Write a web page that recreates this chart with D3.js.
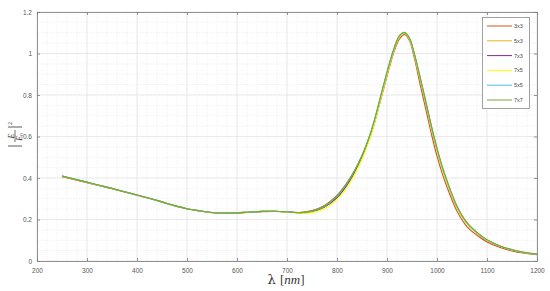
<!DOCTYPE html>
<html>
<head>
<meta charset="utf-8">
<script src="https://cdn.jsdelivr.net/npm/d3@7"></script>
<style>
	body{margin:0;background:#fff;}
	svg{display:block;}
</style>
</head>
<body>
<div id="chart"></div>
<script>
// wavelength samples (nm)
var lambda=[250,275,300,325,350,375,400,425,450,475,500,525,550,575,600,625,650,675,700,725,750,775,800,825,850,870,890,905,915,925,935,945,955,965,980,990,1000,1010,1020,1040,1060,1080,1100,1125,1150,1175,1200];

var s3x3=[0.406,0.392,0.377,0.363,0.348,0.333,0.317,0.301,0.284,0.266,0.251,0.241,0.233,0.230,0.231,0.235,0.238,0.239,0.237,0.234,0.243,0.268,0.316,0.395,0.500,0.625,0.800,0.935,1.015,1.070,1.092,1.062,0.975,0.865,0.705,0.600,0.505,0.425,0.356,0.240,0.166,0.124,0.092,0.066,0.048,0.037,0.030];
var s5x3=[0.409,0.394,0.379,0.364,0.349,0.334,0.318,0.302,0.285,0.267,0.252,0.242,0.234,0.231,0.232,0.236,0.239,0.240,0.237,0.232,0.238,0.260,0.306,0.385,0.500,0.630,0.810,0.945,1.025,1.080,1.098,1.070,0.990,0.886,0.735,0.630,0.535,0.450,0.378,0.258,0.180,0.134,0.100,0.072,0.053,0.040,0.033];
var s7x3=[0.409,0.394,0.379,0.364,0.349,0.334,0.318,0.302,0.285,0.267,0.252,0.242,0.234,0.231,0.232,0.236,0.239,0.240,0.237,0.232,0.238,0.260,0.306,0.385,0.502,0.632,0.812,0.947,1.027,1.082,1.099,1.070,0.990,0.888,0.737,0.632,0.537,0.452,0.380,0.259,0.181,0.135,0.100,0.072,0.053,0.040,0.033];
var s7x5=[0.409,0.394,0.379,0.364,0.349,0.334,0.318,0.302,0.285,0.267,0.252,0.242,0.234,0.231,0.232,0.236,0.239,0.240,0.236,0.230,0.233,0.252,0.296,0.372,0.490,0.622,0.805,0.942,1.024,1.080,1.098,1.068,0.988,0.886,0.735,0.630,0.535,0.450,0.378,0.258,0.180,0.134,0.100,0.072,0.053,0.040,0.033];
var s5x5=[0.410,0.395,0.380,0.365,0.350,0.334,0.318,0.302,0.285,0.267,0.252,0.242,0.234,0.231,0.232,0.236,0.239,0.240,0.237,0.233,0.240,0.263,0.312,0.392,0.508,0.638,0.818,0.952,1.030,1.085,1.100,1.072,0.995,0.896,0.742,0.637,0.542,0.457,0.385,0.263,0.184,0.137,0.102,0.073,0.054,0.041,0.033];
var s7x7=[0.410,0.395,0.380,0.365,0.350,0.334,0.318,0.302,0.285,0.267,0.252,0.242,0.234,0.231,0.232,0.236,0.239,0.240,0.237,0.233,0.241,0.265,0.315,0.395,0.510,0.640,0.820,0.955,1.032,1.087,1.102,1.075,0.998,0.900,0.745,0.640,0.545,0.460,0.388,0.265,0.185,0.138,0.103,0.074,0.055,0.042,0.034];

var seriesNames=['3x3','5x3','7x3','7x5','5x5','7x7'];
var seriesValues=[s3x3,s5x3,s7x3,s7x5,s5x5,s7x7];
var seriesColors=['#D95319','#EDB120','#7E2F8E','#FFFF00','#4DBEEE','#77AC30'];

var xTicks=[200,300,400,500,600,700,800,900,1000,1100,1200];
var yTicks=[0,0.2,0.4,0.6,0.8,1,1.2];

var W=550,H=291;
var mLeft=37,mRight=537,mTop=12,mBottom=261;

var svg=d3.select('#chart').append('svg')
	.attr('width',W).attr('height',H)
	.style('font-family','Helvetica, Arial, "Liberation Sans", sans-serif');

var x=d3.scaleLinear().domain([200,1200]).range([mLeft,mRight]);
var y=d3.scaleLinear().domain([0,1.2]).range([mBottom,mTop]);

// minor grid
var xMinor=d3.range(200,1201,20), yMinor=d3.range(0,1.2001,0.05);
svg.append('g').selectAll('line').data(xMinor).enter().append('line')
	.attr('x1',function(d){return x(d);}).attr('x2',function(d){return x(d);})
	.attr('y1',mTop).attr('y2',mBottom)
	.attr('stroke','#e2e2e2').attr('stroke-width',0.5).attr('stroke-dasharray','1,1');
svg.append('g').selectAll('line').data(yMinor).enter().append('line')
	.attr('y1',function(d){return y(d);}).attr('y2',function(d){return y(d);})
	.attr('x1',mLeft).attr('x2',mRight)
	.attr('stroke','#e2e2e2').attr('stroke-width',0.5).attr('stroke-dasharray','1,1');
// major grid
svg.append('g').selectAll('line').data(xTicks).enter().append('line')
	.attr('x1',function(d){return x(d);}).attr('x2',function(d){return x(d);})
	.attr('y1',mTop).attr('y2',mBottom)
	.attr('stroke','#e6e6e6').attr('stroke-width',0.8);
svg.append('g').selectAll('line').data(yTicks).enter().append('line')
	.attr('y1',function(d){return y(d);}).attr('y2',function(d){return y(d);})
	.attr('x1',mLeft).attr('x2',mRight)
	.attr('stroke','#e6e6e6').attr('stroke-width',0.8);

// axes (ticks inward, box)
var axColor='#7a7a7a';
function styleAxis(g,hideText){
	g.select('.domain').attr('stroke',axColor).attr('stroke-width',0.8);
	g.selectAll('.tick line').attr('stroke',axColor).attr('stroke-width',0.8);
	g.selectAll('.tick text').attr('fill','#555').attr('font-size',6.5);
	if(hideText) g.selectAll('.tick text').remove();
}
svg.append('g').attr('transform','translate(0,'+mBottom+')')
	.call(d3.axisBottom(x).tickValues(xTicks).tickSize(-3).tickPadding(7).tickSizeOuter(0).tickFormat(d3.format('d')))
	.call(styleAxis,false);
svg.append('g').attr('transform','translate(0,'+mTop+')')
	.call(d3.axisTop(x).tickValues(xTicks).tickSize(-3).tickSizeOuter(0))
	.call(styleAxis,true);
svg.append('g').attr('transform','translate('+mLeft+',0)')
	.call(d3.axisLeft(y).tickValues(yTicks).tickSize(-3).tickPadding(5).tickSizeOuter(0).tickFormat(d3.format('~g')))
	.call(styleAxis,false);
svg.append('g').attr('transform','translate('+mRight+',0)')
	.call(d3.axisRight(y).tickValues(yTicks).tickSize(-3).tickSizeOuter(0))
	.call(styleAxis,true);

// curves
var line=d3.line()
	.x(function(d,i){return x(lambda[i]);})
	.y(function(d){return y(d);})
	.curve(d3.curveCatmullRom);
svg.append('g').selectAll('path').data(seriesValues).enter().append('path')
	.attr('d',function(d){return line(d);})
	.attr('fill','none')
	.attr('stroke',function(d,i){return seriesColors[i];})
	.attr('stroke-width',1.1);

// legend
var lg=svg.append('g');
lg.append('rect').attr('x',482.5).attr('y',17.5).attr('width',47).attr('height',91)
	.attr('fill','#fff').attr('stroke','#8a8a8a').attr('stroke-width',0.8);
var ly=d3.scaleLinear().domain([0,5]).range([26,100]);
seriesNames.forEach(function(n,i){
	lg.append('line').attr('x1',487).attr('x2',512)
		.attr('y1',ly(i)).attr('y2',ly(i))
		.attr('stroke',seriesColors[i]).attr('stroke-width',1);
	lg.append('text').attr('x',514).attr('y',ly(i)).attr('dy','0.35em')
		.attr('font-size',5.5).attr('fill','#444').text(n);
});

// x label: lambda [nm]
var xl=svg.append('text').attr('x',286).attr('y',284).attr('text-anchor','middle')
	.attr('font-family','"DejaVu Serif", "Liberation Serif", serif').attr('font-size',13).attr('fill','#333');
xl.append('tspan').text('λ ');
xl.append('tspan').attr('font-family','"Liberation Serif", serif').text('[');
xl.append('tspan').attr('font-style','italic').attr('font-family','"Liberation Serif", serif').text('nm');
xl.append('tspan').attr('font-family','"Liberation Serif", serif').text(']');

// y label: |E/E0|^2
var yl=svg.append('g').attr('transform','translate(15,136) rotate(-90)')
	.attr('font-family','"Liberation Serif", serif').attr('fill','#333');
yl.append('line').attr('x1',-10).attr('x2',-10).attr('y1',-7).attr('y2',7).attr('stroke','#333').attr('stroke-width',0.8);
yl.append('line').attr('x1',9).attr('x2',9).attr('y1',-7).attr('y2',7).attr('stroke','#333').attr('stroke-width',0.8);
yl.append('line').attr('x1',-6).attr('x2',6).attr('y1',0).attr('y2',0).attr('stroke','#333').attr('stroke-width',0.7);
yl.append('text').attr('x',0).attr('y',-1.5).attr('text-anchor','middle').attr('font-size',8).attr('font-style','italic').text('E');
var den=yl.append('text').attr('x',-1).attr('y',6.5).attr('text-anchor','middle').attr('font-size',8).attr('font-style','italic');
den.append('tspan').text('E');
den.append('tspan').attr('font-size',5).attr('dy',1).attr('font-style','normal').text('0');
yl.append('text').attr('x',11).attr('y',-3).attr('font-size',6).text('2');
</script>
</body>
</html>
